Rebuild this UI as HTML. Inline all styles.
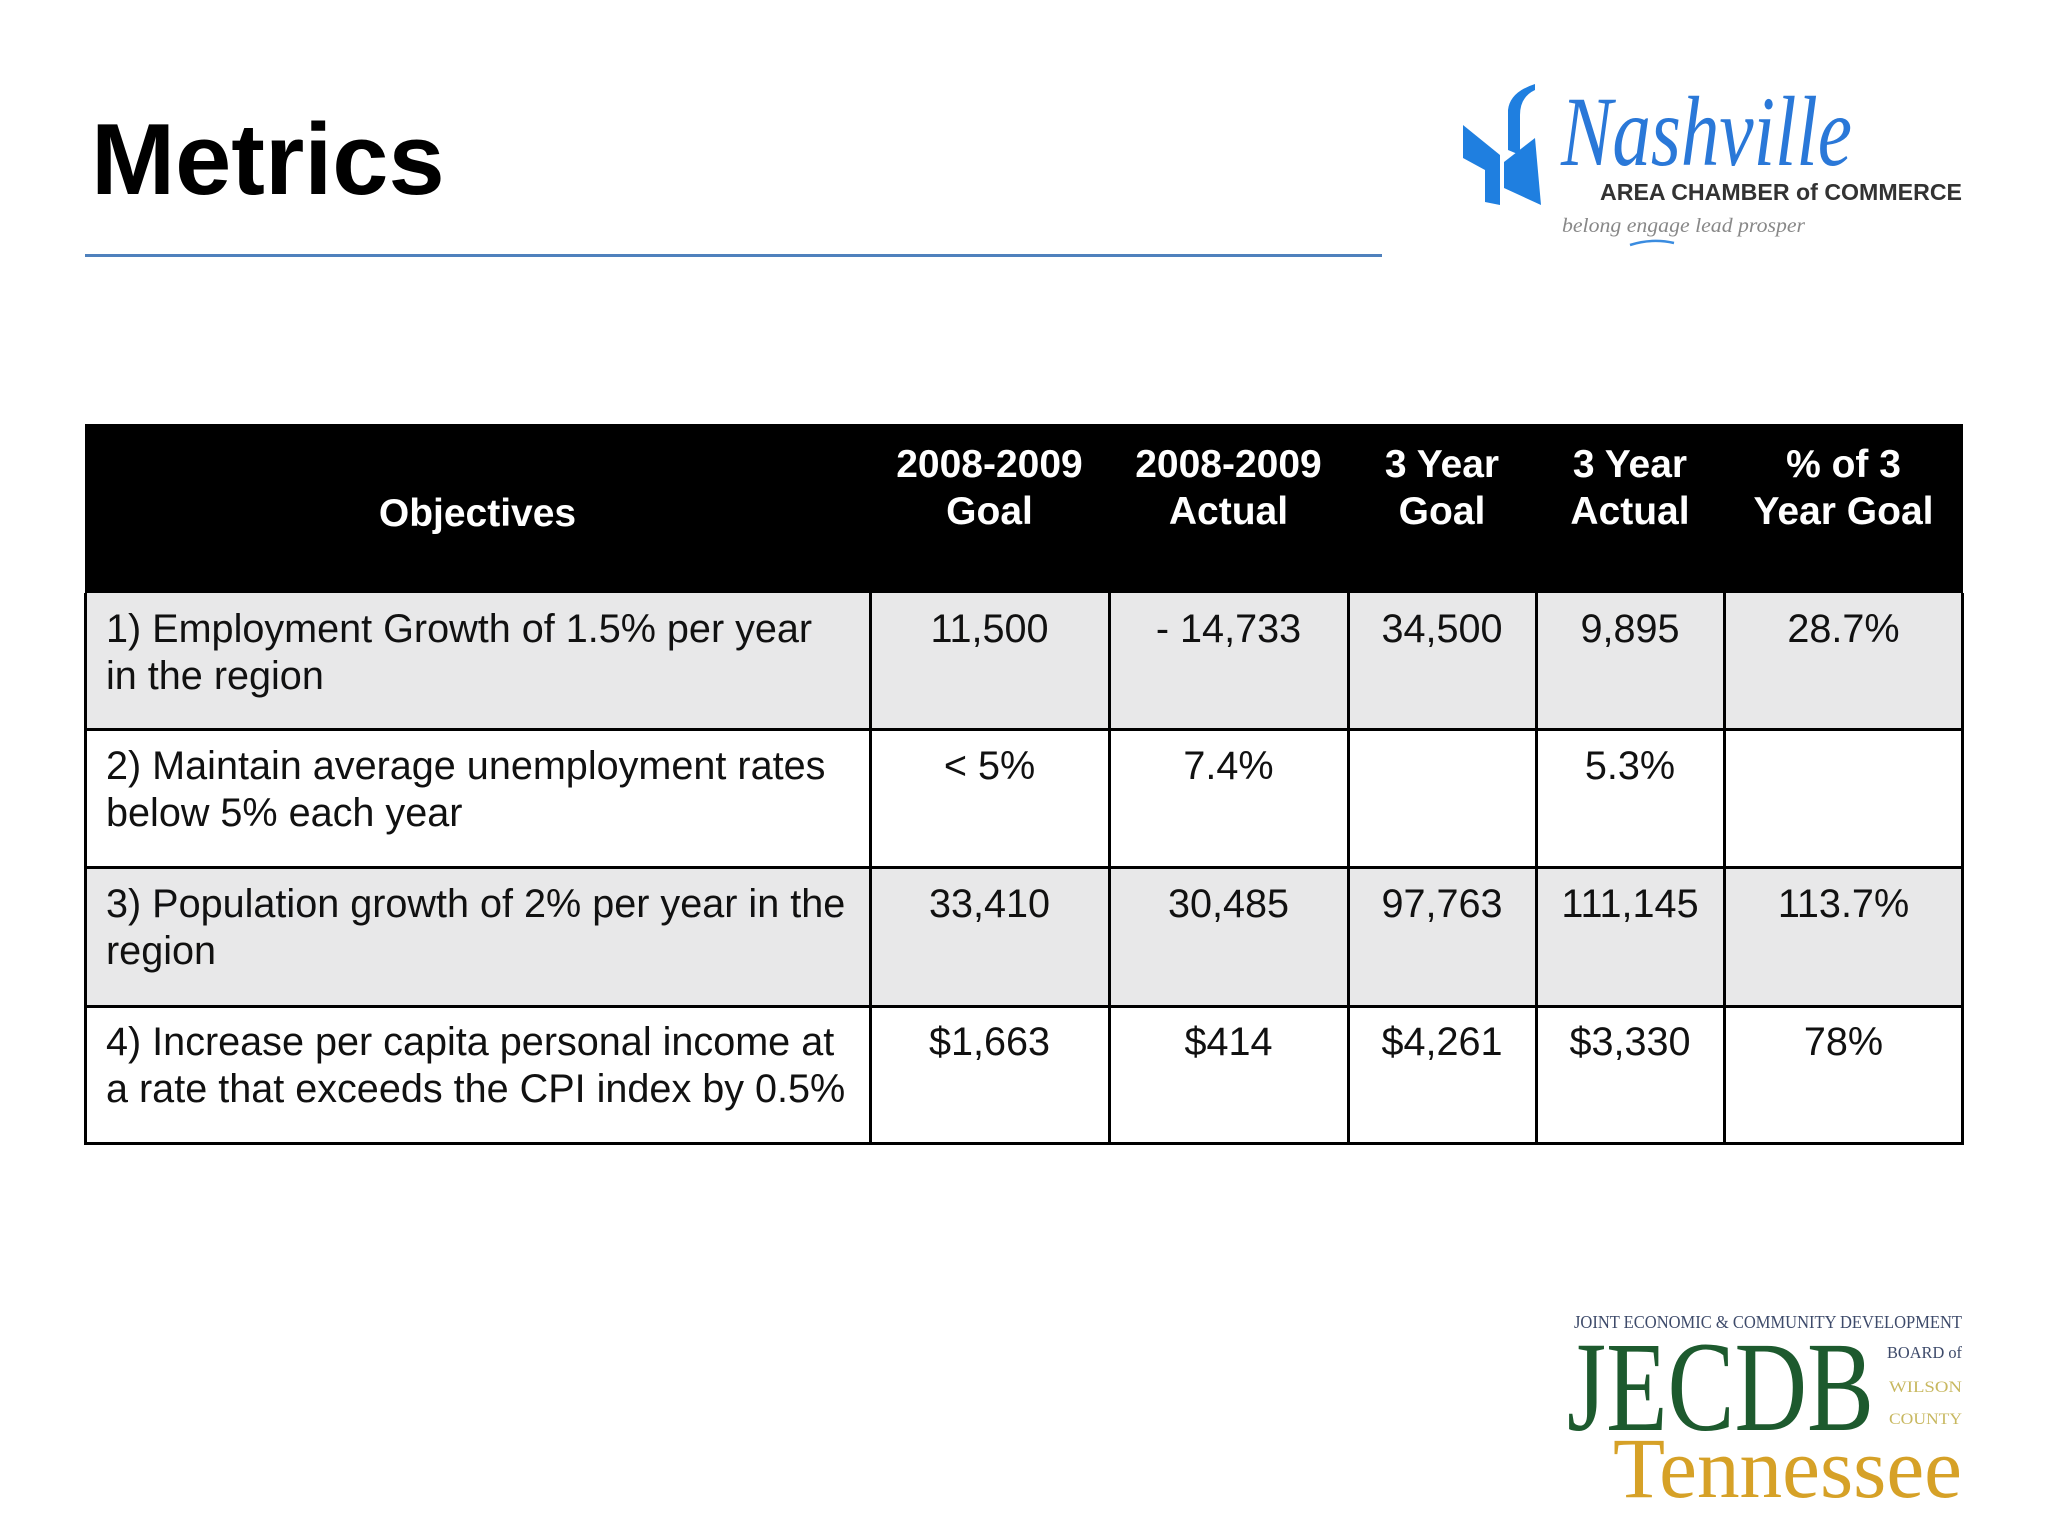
<!DOCTYPE html>
<html><head><meta charset="utf-8">
<style>
*{margin:0;padding:0;box-sizing:border-box}
body{width:2048px;height:1536px;background:#fff;position:relative;overflow:hidden;font-family:"Liberation Sans",Arial,sans-serif}
.abs{position:absolute}
.t{position:absolute;font-size:39.6px;line-height:47px;color:#111;white-space:nowrap}
.c{text-align:center}
.h{position:absolute;font-size:39px;line-height:47px;color:#fff;font-weight:bold;white-space:nowrap;text-align:center}
.hl{position:absolute;background:#000;height:3px}
.vl{position:absolute;background:#000;width:3px}
</style></head><body>
<div class="abs" style="left:91px;top:100px;font-size:101px;font-weight:bold;line-height:120px;color:#000">Metrics</div>
<div class="abs" style="left:85px;top:254px;width:1297px;height:3px;background:#4f81bd"></div>

<svg class="abs" style="left:1440px;top:70px" width="540" height="190" viewBox="0 0 540 190">
<path d="M23 55 L60 85 L60 135 L45 132 L45 100 L23 88 Z" fill="#1f7fe0"/>
<path d="M68 40 Q70 22 95 14 L95 20 Q80 27 80 45 L80 85 L68 80 Z" fill="#1f7fe0"/>
<path d="M64 92 L95 68 L101 135 L64 118 Z" fill="#1f7fe0"/>
<text x="121" y="95" font-family="Liberation Serif,serif" font-style="italic" font-size="100" fill="#2a78d8" textLength="291" lengthAdjust="spacingAndGlyphs">Nashville</text>
<text x="160" y="130" font-family="Liberation Sans,sans-serif" font-weight="bold" font-size="23" fill="#333" textLength="362" lengthAdjust="spacingAndGlyphs">AREA CHAMBER of COMMERCE</text>
<text x="122" y="162" font-family="Liberation Serif,serif" font-style="italic" font-size="20" fill="#888" textLength="243" lengthAdjust="spacingAndGlyphs">belong engage lead prosper</text>
<path d="M190 175 Q212 168 234 173" stroke="#3a8ce0" stroke-width="2.5" fill="none"/>
</svg>

<svg class="abs" style="left:1560px;top:1300px" width="410" height="210" viewBox="0 0 410 210">
<text x="14" y="28" font-family="Liberation Serif,serif" font-size="18" fill="#3d4a6a" textLength="388" lengthAdjust="spacingAndGlyphs">JOINT ECONOMIC &amp; COMMUNITY DEVELOPMENT</text>
<text x="7" y="130" font-family="Liberation Serif,serif" font-size="128" fill="#1d5a2e" textLength="307" lengthAdjust="spacingAndGlyphs">JECDB</text>
<text x="327" y="58" font-family="Liberation Serif,serif" font-size="17" fill="#3d4a6a" textLength="75" lengthAdjust="spacingAndGlyphs">BOARD of</text>
<text x="329" y="92" font-family="Liberation Serif,serif" font-size="16" fill="#c8b860" textLength="73" lengthAdjust="spacingAndGlyphs">WILSON</text>
<text x="329" y="124" font-family="Liberation Serif,serif" font-size="16" fill="#c8b860" textLength="73" lengthAdjust="spacingAndGlyphs">COUNTY</text>
<text x="53" y="197" font-family="Liberation Serif,serif" font-size="86" fill="#d6a127" textLength="349" lengthAdjust="spacingAndGlyphs">Tennessee</text>
</svg>

<div class="abs" style="left:85px;top:424px;width:1878px;height:169px;background:#000"></div>
<div class="abs" style="left:85px;top:593px;width:1878px;height:136px;background:#e8e8e9"></div>
<div class="abs" style="left:85px;top:867px;width:1878px;height:139px;background:#e8e8e9"></div>
<div class="hl" style="left:85px;top:728px;width:1878px"></div>
<div class="hl" style="left:85px;top:866px;width:1878px"></div>
<div class="hl" style="left:85px;top:1005px;width:1878px"></div>
<div class="hl" style="left:85px;top:1142px;width:1878px"></div>
<div class="vl" style="left:84px;top:593px;height:552px"></div>
<div class="vl" style="left:869px;top:593px;height:552px"></div>
<div class="vl" style="left:1108px;top:593px;height:552px"></div>
<div class="vl" style="left:1347px;top:593px;height:552px"></div>
<div class="vl" style="left:1535px;top:593px;height:552px"></div>
<div class="vl" style="left:1723px;top:593px;height:552px"></div>
<div class="vl" style="left:1961px;top:593px;height:552px"></div>

<div class="h" style="left:85px;width:785px;top:490px">Objectives</div>
<div class="h" style="left:870px;width:239px;top:441px">2008-2009<br>Goal</div>
<div class="h" style="left:1109px;width:239px;top:441px">2008-2009<br>Actual</div>
<div class="h" style="left:1348px;width:188px;top:441px">3 Year<br>Goal</div>
<div class="h" style="left:1536px;width:188px;top:441px">3 Year<br>Actual</div>
<div class="h" style="left:1724px;width:239px;top:441px">% of 3<br>Year Goal</div>

<div class="t" style="left:106px;top:606px">1) Employment Growth of 1.5% per year<br>in the region</div>
<div class="t c" style="left:870px;width:239px;top:606px">11,500</div>
<div class="t c" style="left:1109px;width:239px;top:606px">- 14,733</div>
<div class="t c" style="left:1348px;width:188px;top:606px">34,500</div>
<div class="t c" style="left:1536px;width:188px;top:606px">9,895</div>
<div class="t c" style="left:1724px;width:239px;top:606px">28.7%</div>

<div class="t" style="left:106px;top:743px">2) Maintain average unemployment rates<br>below 5% each year</div>
<div class="t c" style="left:870px;width:239px;top:743px">&lt; 5%</div>
<div class="t c" style="left:1109px;width:239px;top:743px">7.4%</div>
<div class="t c" style="left:1536px;width:188px;top:743px">5.3%</div>

<div class="t" style="left:106px;top:881px">3) Population growth of 2% per year in the<br>region</div>
<div class="t c" style="left:870px;width:239px;top:881px">33,410</div>
<div class="t c" style="left:1109px;width:239px;top:881px">30,485</div>
<div class="t c" style="left:1348px;width:188px;top:881px">97,763</div>
<div class="t c" style="left:1536px;width:188px;top:881px">111,145</div>
<div class="t c" style="left:1724px;width:239px;top:881px">113.7%</div>

<div class="t" style="left:106px;top:1019px">4) Increase per capita personal income at<br>a rate that exceeds the CPI index by 0.5%</div>
<div class="t c" style="left:870px;width:239px;top:1019px">$1,663</div>
<div class="t c" style="left:1109px;width:239px;top:1019px">$414</div>
<div class="t c" style="left:1348px;width:188px;top:1019px">$4,261</div>
<div class="t c" style="left:1536px;width:188px;top:1019px">$3,330</div>
<div class="t c" style="left:1724px;width:239px;top:1019px">78%</div>
</body></html>
